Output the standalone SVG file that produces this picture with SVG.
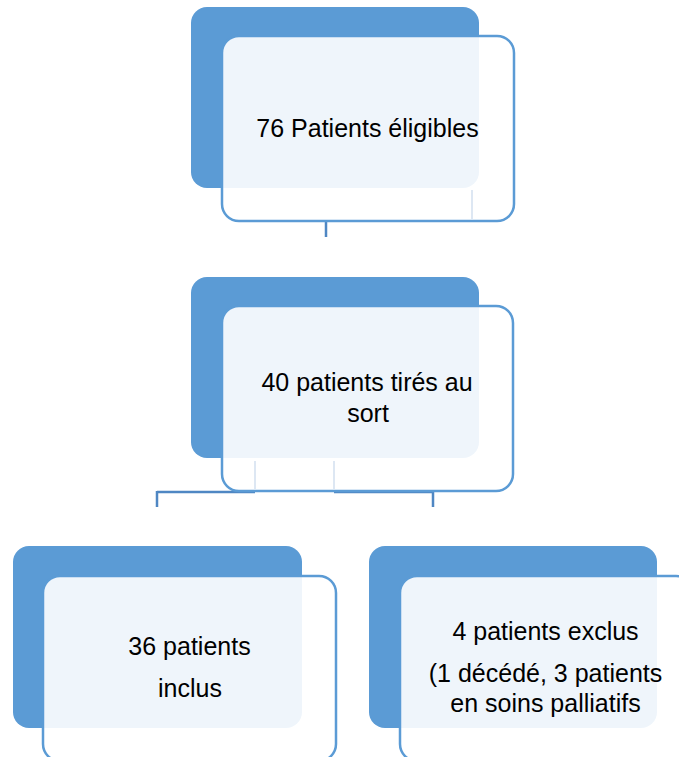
<svg xmlns="http://www.w3.org/2000/svg" width="679" height="757" viewBox="0 0 679 757">
<style>
.back{fill:#5b9bd5;}
.front{fill:#ffffff;fill-opacity:0.9;stroke:#5b9bd5;stroke-width:2.5;}
.conn{stroke:#4f87c3;stroke-width:2.5;fill:none;}
.faint{stroke:#dde7f3;stroke-width:2;fill:none;}
.t{font-family:"Liberation Sans",Arial,sans-serif;font-size:25px;fill:#000;text-anchor:middle;}
</style>
<rect width="679" height="757" fill="#ffffff"/>
<g id="connectors">
<line class="conn" x1="326" y1="221" x2="326" y2="237"/>
<line class="conn" x1="157" y1="492" x2="255" y2="492"/>
<line class="conn" x1="334" y1="492" x2="433" y2="492"/>
<line class="conn" x1="157" y1="491" x2="157" y2="507"/>
<line class="conn" x1="433" y1="491" x2="433" y2="507"/>
</g>
<g id="n1">
<rect class="back" x="191" y="7" width="288" height="181" rx="16"/>
<rect class="front" x="222" y="36" width="292" height="185" rx="17"/>
<line class="faint" x1="472" y1="190" x2="472" y2="219"/>
<text class="t" x="367.5" y="137">76 Patients éligibles</text>
</g>
<g id="n2">
<rect class="back" x="191" y="277" width="288" height="181" rx="16"/>
<rect class="front" x="222" y="306" width="291" height="185" rx="17"/>
<line class="faint" x1="255" y1="461" x2="255" y2="489"/>
<line class="faint" x1="334" y1="461" x2="334" y2="489"/>
<text class="t" x="367" y="391">40 patients tirés au</text>
<text class="t" x="368" y="422">sort</text>
</g>
<g id="n3">
<rect class="back" x="13" y="546" width="289" height="182" rx="16"/>
<rect class="front" x="43" y="576" width="293" height="185" rx="17"/>
<text class="t" x="189.5" y="655">36 patients</text>
<text class="t" x="190" y="697">inclus</text>
</g>
<g id="n4">
<rect class="back" x="369" y="546" width="288" height="182" rx="16"/>
<rect class="front" x="400" y="576" width="293" height="185" rx="17"/>
<text class="t" x="545.5" y="640">4 patients exclus</text>
<text class="t" x="545.5" y="682">(1 décédé, 3 patients</text>
<text class="t" x="545.5" y="712">en soins palliatifs</text>
</g>
</svg>
